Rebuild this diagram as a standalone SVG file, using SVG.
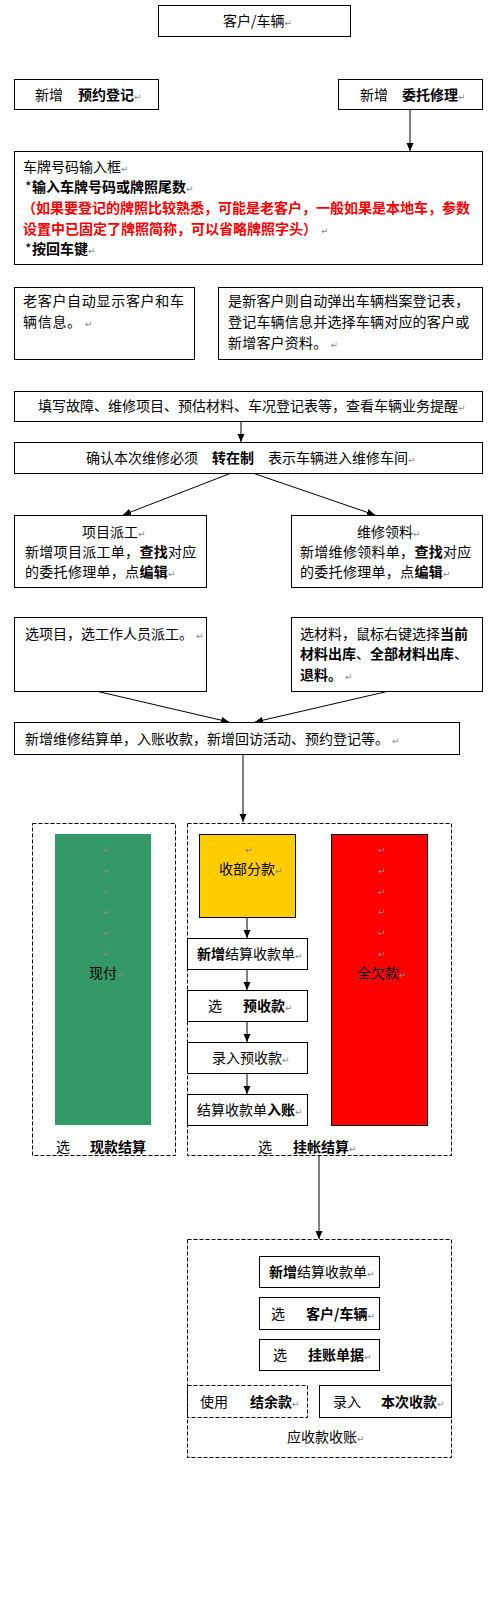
<svg xmlns="http://www.w3.org/2000/svg" width="490" height="1600" viewBox="0 0 490 1600">
<style>
.b{fill:#fff;stroke:#000;stroke-width:1}
.d{fill:none;stroke:#000;stroke-width:1;stroke-dasharray:4 2}
.t{font-family:"Noto Sans CJK SC","Liberation Sans",sans-serif;font-size:14px;fill:#000}
.bd{font-weight:bold}
.r{fill:#f00;font-weight:bold}
.m{font-family:"DejaVu Sans",sans-serif;font-size:9px;fill:#888;font-weight:normal}
.c{stroke:#000;stroke-width:1;fill:none;marker-end:url(#a)}
</style>
<defs>
<marker id="a" markerUnits="userSpaceOnUse" markerWidth="8" markerHeight="8" refX="8" refY="3.5" orient="auto"><path d="M0,0 L8,3.5 L0,7 z" fill="#000"/></marker>
</defs>
<rect width="490" height="1600" fill="#fff"/>
<g id="connectors">
<line class="c" x1="410" y1="109.5" x2="410" y2="151"/>
<line class="c" x1="241" y1="421.5" x2="241" y2="442"/>
<line class="c" x1="230" y1="473.5" x2="123" y2="515"/>
<line class="c" x1="254" y1="473.5" x2="375" y2="515"/>
<line class="c" x1="98" y1="691.5" x2="229" y2="722"/>
<line class="c" x1="387" y1="691.5" x2="255" y2="722"/>
<line class="c" x1="243" y1="754.5" x2="243" y2="822"/>
<line class="c" x1="247" y1="917.5" x2="247" y2="938"/>
<line class="c" x1="247" y1="969.5" x2="247" y2="990"/>
<line class="c" x1="247" y1="1021.5" x2="247" y2="1042"/>
<line class="c" x1="247" y1="1073.5" x2="247" y2="1094"/>
<line class="c" x1="319" y1="1156" x2="319" y2="1239"/>
</g>
<g id="n1"><rect class="b" x="158.5" y="5.5" width="192" height="31"/><text class="t" x="223" y="26">客户/车辆<tspan class="m">↵</tspan></text></g>
<g id="n2"><rect class="b" x="14.5" y="79.5" width="144" height="30"/><text class="t" x="35" y="100">新增<tspan class="bd" x="78">预约登记</tspan><tspan class="m">↵</tspan></text></g>
<g id="n3"><rect class="b" x="338.5" y="79.5" width="144" height="30"/><text class="t" x="360" y="100">新增<tspan class="bd" x="402">委托修理</tspan><tspan class="m">↵</tspan></text></g>
<g id="n4"><rect class="b" x="14.5" y="151.5" width="468" height="113"/>
<text class="t" x="23" y="172">车牌号码输入框<tspan class="m">↵</tspan></text>
<text class="t" x="25" y="192">*<tspan class="bd" x="32">输入车牌号码或牌照尾数</tspan><tspan class="m">↵</tspan></text>
<text class="t r" x="22" y="213">（如果要登记的牌照比较熟悉，可能是老客户，一般如果是本地车，参数</text>
<text class="t r" x="23" y="234">设置中已固定了牌照简称，可以省略牌照字头）<tspan class="m" dx="4">↵</tspan></text>
<text class="t" x="25" y="254">*<tspan class="bd" x="32">按回车键</tspan><tspan class="m">↵</tspan></text>
</g>
<g id="n5"><rect class="b" x="14.5" y="287.5" width="180" height="72"/>
<text class="t" x="23" y="306" letter-spacing="0.7">老客户自动显示客户和车</text>
<text class="t" x="23" y="327" letter-spacing="0.7">辆信息。<tspan class="m" dx="3">↵</tspan></text>
</g>
<g id="n6"><rect class="b" x="218.5" y="287.5" width="264" height="72"/>
<text class="t" x="228" y="306" letter-spacing="0.2">是新客户则自动弹出车辆档案登记表，</text>
<text class="t" x="228" y="327" letter-spacing="0.2">登记车辆信息并选择车辆对应的客户或</text>
<text class="t" x="228" y="348" letter-spacing="0.2">新增客户资料。<tspan class="m" dx="3">↵</tspan></text>
</g>
<g id="n7"><rect class="b" x="14.5" y="391.5" width="468" height="30"/><text class="t" x="38" y="411">填写故障、维修项目、预估材料、车况登记表等，查看车辆业务提醒<tspan class="m">↵</tspan></text></g>
<g id="n8"><rect class="b" x="14.5" y="442.5" width="468" height="31"/><text class="t" x="86" y="463">确认本次维修必须<tspan class="bd" x="212">转在制</tspan><tspan x="268">表示车辆进入维修车间</tspan><tspan class="m">↵</tspan></text></g>
<g id="n9"><rect class="b" x="14.5" y="515.5" width="192" height="72"/>
<text class="t" x="82" y="537">项目派工<tspan class="m">↵</tspan></text>
<text class="t" x="25" y="557" letter-spacing="0.3">新增项目派工单，<tspan class="bd">查找</tspan>对应</text>
<text class="t" x="25" y="577" letter-spacing="0.3">的委托修理单，点<tspan class="bd">编辑</tspan><tspan class="m">↵</tspan></text>
</g>
<g id="n10"><rect class="b" x="291.5" y="515.5" width="191" height="72"/>
<text class="t" x="357" y="537">维修领料<tspan class="m">↵</tspan></text>
<text class="t" x="300" y="557" letter-spacing="0.3">新增维修领料单，<tspan class="bd">查找</tspan>对应</text>
<text class="t" x="300" y="577" letter-spacing="0.3">的委托修理单，点<tspan class="bd">编辑</tspan><tspan class="m">↵</tspan></text>
</g>
<g id="n11"><rect class="b" x="14.5" y="617.5" width="192" height="74"/><text class="t" x="25" y="639">选项目，选工作人员派工。<tspan class="m" dx="3">↵</tspan></text></g>
<g id="n12"><rect class="b" x="291.5" y="617.5" width="191" height="74"/>
<text class="t" x="300" y="639">选材料，鼠标右键选择<tspan class="bd">当前</tspan></text>
<text class="t" x="300" y="659"><tspan class="bd">材料出库</tspan>、<tspan class="bd">全部材料出库</tspan>、</text>
<text class="t" x="300" y="680"><tspan class="bd">退料。</tspan><tspan class="m" dx="3">↵</tspan></text>
</g>
<g id="n13"><rect class="b" x="14.5" y="722.5" width="445" height="32"/><text class="t" x="25" y="744">新增维修结算单，入账收款，新增回访活动、预约登记等。<tspan class="m" dx="3">↵</tspan></text></g>
<g id="cash">
<rect class="d" x="32.5" y="823.5" width="143" height="332"/>
<rect x="55" y="834" width="96" height="291" fill="#339966"/>
<text class="m" x="103" y="853">↵</text><text class="m" x="103" y="874">↵</text><text class="m" x="103" y="895">↵</text><text class="m" x="103" y="915">↵</text><text class="m" x="103" y="936">↵</text><text class="m" x="103" y="957">↵</text>
<text class="t" x="89" y="978">现付<tspan class="m">↵</tspan></text>
<text class="t" x="56" y="1152">选<tspan class="bd" x="90">现款结算</tspan></text>
</g>
<g id="credit">
<rect class="d" x="187.5" y="823.5" width="264" height="332"/>
<text class="t" x="258" y="1152">选<tspan class="bd" x="293">挂帐结算</tspan><tspan class="m">↵</tspan></text>
</g>
<g id="partial"><rect x="199.5" y="834.5" width="96" height="83" fill="#FFCC00" stroke="#000"/><text class="m" x="245" y="853">↵</text><text class="t" x="219" y="874">收部分款<tspan class="m">↵</tspan></text></g>
<g id="full"><rect x="331.5" y="834.5" width="96" height="291" fill="#FF0000" stroke="#000"/>
<text class="m" x="378" y="853">↵</text><text class="m" x="378" y="874">↵</text><text class="m" x="378" y="895">↵</text><text class="m" x="378" y="915">↵</text><text class="m" x="378" y="936">↵</text><text class="m" x="378" y="957">↵</text>
<text class="t" x="357" y="978">全欠款<tspan class="m">↵</tspan></text></g>
<g id="s1"><rect class="b" x="187.5" y="938.5" width="120" height="31"/><text class="t" x="197" y="959"><tspan class="bd">新增</tspan>结算收款单<tspan class="m">↵</tspan></text></g>
<g id="s2"><rect class="b" x="187.5" y="990.5" width="120" height="31"/><text class="t" x="208" y="1011">选<tspan class="bd" x="243">预收款</tspan><tspan class="m">↵</tspan></text></g>
<g id="s3"><rect class="b" x="187.5" y="1042.5" width="120" height="31"/><text class="t" x="212" y="1063">录入预收款<tspan class="m">↵</tspan></text></g>
<g id="s4"><rect class="b" x="187.5" y="1094.5" width="120" height="31"/><text class="t" x="197" y="1115">结算收款单<tspan class="bd">入账</tspan><tspan class="m">↵</tspan></text></g>
<g id="receivable">
<rect class="d" x="187.5" y="1239.5" width="264" height="218"/>
<text class="t" x="287" y="1442">应收款收账<tspan class="m">↵</tspan></text>
</g>
<g id="r1"><rect class="b" x="259.5" y="1256.5" width="120" height="31"/><text class="t" x="269" y="1277"><tspan class="bd">新增</tspan>结算收款单<tspan class="m">↵</tspan></text></g>
<g id="r2"><rect class="b" x="259.5" y="1297.5" width="120" height="32"/><text class="t" x="271" y="1319">选<tspan class="bd" x="306">客户/车辆</tspan><tspan class="m">↵</tspan></text></g>
<g id="r3"><rect class="b" x="259.5" y="1339.5" width="120" height="31"/><text class="t" x="273" y="1360">选<tspan class="bd" x="308">挂账单据</tspan><tspan class="m">↵</tspan></text></g>
<g id="r4"><rect class="d" x="187.5" y="1385.5" width="120" height="32"/><text class="t" x="200" y="1407">使用<tspan class="bd" x="250">结余款</tspan><tspan class="m">↵</tspan></text></g>
<g id="r5"><rect class="b" x="319.5" y="1385.5" width="132" height="32"/><text class="t" x="333" y="1407">录入<tspan class="bd" x="381">本次收款</tspan><tspan class="m">↵</tspan></text></g>
</svg>
